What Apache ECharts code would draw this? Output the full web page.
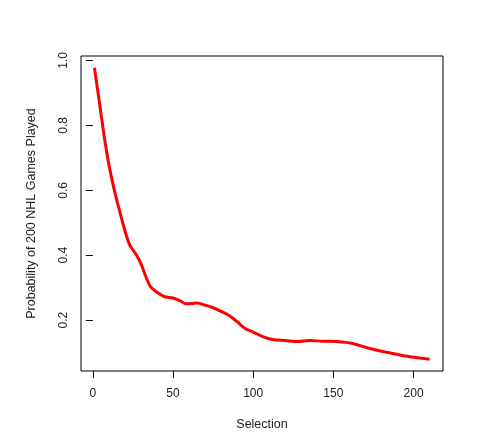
<!DOCTYPE html>
<html>
<head>
<meta charset="utf-8">
<script src="https://cdn.jsdelivr.net/npm/echarts@6/dist/echarts.min.js"></script>
<style>
  html, body { margin: 0; padding: 0; background: #fff; }
  #probChart { width: 495px; height: 441px; }
</style>
</head>
<body>
<div id="probChart"></div>
<script>
// draft selection vs probability
const selection = [1, 3, 5, 7, 10, 13, 16, 20, 23, 27, 30, 33, 36, 40, 45, 50, 55, 58, 62, 65,
  70, 75, 80, 85, 90, 95, 100, 106, 112, 120, 128, 135, 143, 152, 162, 172, 183, 193, 204, 210];
const probability = [0.978, 0.91, 0.84, 0.77, 0.68, 0.61, 0.55, 0.476, 0.432, 0.402, 0.374, 0.335, 0.303, 0.286, 0.272, 0.268, 0.258, 0.250, 0.251, 0.253,
  0.246, 0.238, 0.227, 0.214, 0.195, 0.174, 0.163, 0.149, 0.140, 0.137, 0.134, 0.137, 0.135, 0.134, 0.128, 0.113, 0.101, 0.091, 0.083, 0.079];
const xTicks = [0, 50, 100, 150, 200];
const yTicks = [0.2, 0.4, 0.6, 0.8, 1.0];

const chart = echarts.init(document.getElementById("probChart"));

// R style 4% padding on each side
const pad = (arr) => {
  const lo = Math.min(...arr), hi = Math.max(...arr);
  const e = (hi - lo) * 0.04;
  return [lo - e, hi + e];
};
const [xMin, xMax] = pad(selection);
const [yMin, yMax] = pad(probability);

const font = "'Liberation Sans', Arial, sans-serif";
const textColor = "#222";

const option = {
  animation: false,
  grid: {
    left: 81,
    top: 56,
    width: 362,
    height: 315,
    show: true,
    borderColor: "#000",
    borderWidth: 1,
    backgroundColor: "transparent",
  },
  xAxis: {
    type: "value",
    min: xMin,
    max: xMax,
    name: "Selection",
    nameLocation: "middle",
    nameGap: 47,
    nameTextStyle: { fontFamily: font, fontSize: 12.5, color: textColor },
    axisLine: { show: false },
    axisTick: { show: true, length: 7, customValues: xTicks, lineStyle: { color: "#000" } },
    axisLabel: {
      customValues: xTicks,
      margin: 17,
      fontFamily: font,
      fontSize: 12,
      color: textColor,
    },
    splitLine: { show: false },
  },
  yAxis: {
    type: "value",
    min: yMin,
    max: yMax,
    name: "Probability of 200 NHL Games Played",
    nameLocation: "middle",
    nameGap: 43,
    nameTextStyle: { fontFamily: font, fontSize: 12.5, color: textColor },
    axisLine: { show: false },
    axisTick: { show: true, length: 7, customValues: yTicks, lineStyle: { color: "#000" } },
    axisLabel: {
      customValues: yTicks,
      rotate: 90,
      margin: 11,
      fontFamily: font,
      fontSize: 12,
      color: textColor,
      formatter: (v) => v.toFixed(1),
    },
    splitLine: { show: false },
  },
  series: [
    {
      type: "line",
      data: selection.map((s, i) => [s, probability[i]]),
      showSymbol: false,
      smooth: 0.3,
      lineStyle: { color: "#ff0000", width: 3 },
    },
  ],
};

chart.setOption(option);
</script>
</body>
</html>
